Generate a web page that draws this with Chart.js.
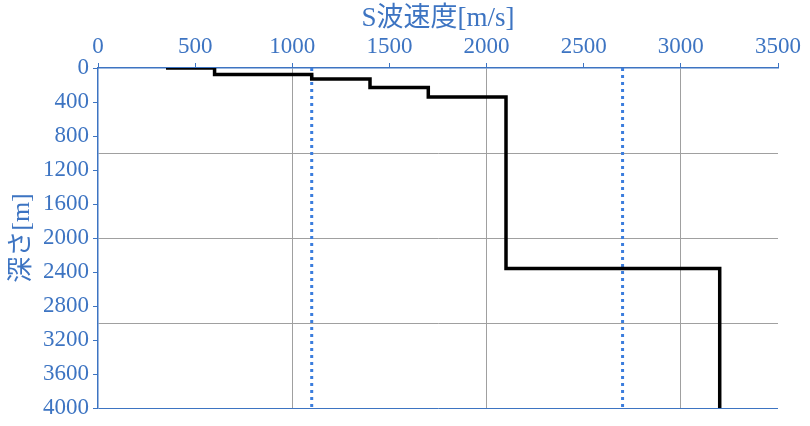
<!DOCTYPE html>
<html lang="ja">
<head>
<meta charset="UTF-8">
<title>S波速度構造</title>
<script src="https://cdn.jsdelivr.net/npm/chart.js@4.4.0/dist/chart.umd.min.js"></script>
<style>
    body { margin: 0; background: #fff; }
    #wrap { width: 810px; height: 426px; }
</style>
</head>
<body>
<div id="wrap"><canvas id="vsChart"></canvas></div>
<script>
// step profile vertices (velocity m/s, depth m)
const stepVs    = [350, 600, 600, 1100, 1100, 1400, 1400, 1700, 1700, 2100, 2100, 3200, 3200];
const stepDepth = [0,   0,   75,  75,   130,  130,  230,  230,  340,  340,  2360, 2360, 4000];
// dotted reference velocities
const refVs = [1100, 2700];
const depthRange = [0, 4000];
const velRange = [0, 3500];

const blue = '#3d74c2';
const grey = '#a0a0a0';
const fontFam = "'Liberation Serif', 'Noto Sans CJK JP', serif";

const datasets = [{
    data: stepVs.map((v, i) => ({ x: v, y: stepDepth[i] })),
    borderColor: '#000',
    borderWidth: 3.5,
    pointRadius: 0,
    fill: false
}];
refVs.forEach(v => {
    datasets.push({
        data: depthRange.map(d => ({ x: v, y: d })),
        borderColor: '#3b7ddd',
        borderWidth: 3,
        borderDash: [3, 4],
        pointRadius: 0,
        fill: false
    });
});

new Chart(document.getElementById('vsChart'), {
    type: 'line',
    data: { datasets: datasets },
    options: {
        responsive: true,
        maintainAspectRatio: false,
        animation: false,
        layout: { padding: { left: 0, right: 32, top: 0, bottom: 18 } },
        plugins: { legend: { display: false }, tooltip: { enabled: false } },
        scales: {
            x: {
                type: 'linear',
                position: 'top',
                min: velRange[0], max: velRange[1],
                ticks: {
                    stepSize: 500, color: blue, font: { family: fontFam, size: 23 }, padding: 2,
                    callback: v => String(v)
                },
                grid: {
                    color: c => (c.tick && c.tick.value % 1000 === 0 && c.tick.value > 0 && c.tick.value < 3500) ? grey : 'rgba(0,0,0,0)',
                    tickColor: blue,
                    tickLength: 5
                },
                border: { color: blue, width: 1.5 },
                title: { display: true, text: 'S波速度[m/s]', color: blue, font: { family: fontFam, size: 27 }, padding: { top: 3, bottom: 0 } },
                afterFit: s => { s.height = 68; }
            },
            y: {
                type: 'linear',
                reverse: true,
                min: depthRange[0], max: depthRange[1],
                ticks: {
                    stepSize: 200,
                    autoSkip: false,
                    color: blue,
                    font: { family: fontFam, size: 23 },
                    padding: 4,
                    callback: v => (v % 400 === 0 ? String(v) : '')
                },
                grid: {
                    color: c => {
                        if (!c.tick) return 'rgba(0,0,0,0)';
                        const v = c.tick.value;
                        if (v === 4000) return blue;
                        if (v % 1000 === 0 && v > 0) return grey;
                        return 'rgba(0,0,0,0)';
                    },
                    tickColor: c => (c.tick && c.tick.value % 400 === 0) ? blue : 'rgba(0,0,0,0)',
                    tickLength: 5
                },
                border: { color: blue, width: 1.5 },
                title: { display: true, text: '深さ[m]', color: blue, font: { family: fontFam, size: 26 }, padding: { top: 7, bottom: 0 } },
                afterFit: s => { s.width = 98; }
            }
        }
    }
});
</script>
</body>
</html>
